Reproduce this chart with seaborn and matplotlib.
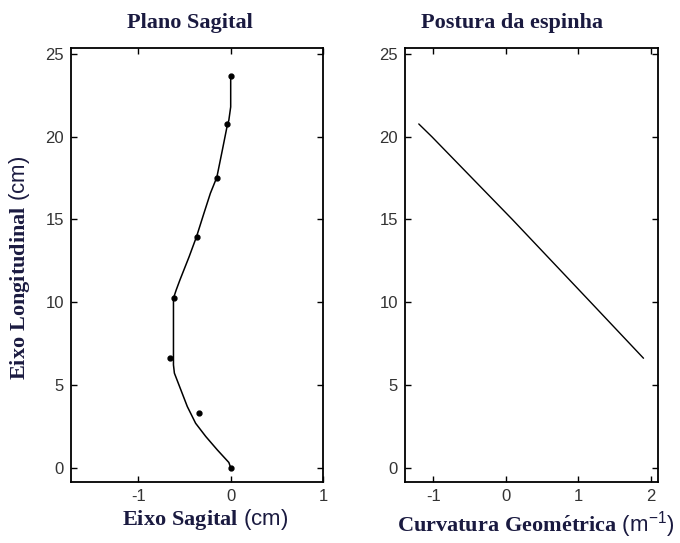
import numpy as np
import matplotlib
matplotlib.use("Agg")
import matplotlib.pyplot as plt
import seaborn as sns

# sagittal plane: fitted spine curve (x, y in cm) and measured markers
curve_x = [0.0, 0.0, -0.02, -0.04, -0.09, -0.15, -0.22, -0.29, -0.37, -0.45,
           -0.55, -0.59, -0.62, -0.62, -0.62, -0.61, -0.54, -0.47, -0.38,
           -0.27, -0.145, -0.02, 0.0]
curve_y = [23.69, 21.8, 21.0, 20.6, 19.2, 17.55, 16.58, 15.37, 13.96, 12.75,
           11.34, 10.74, 10.24, 9.43, 6.21, 5.71, 4.70, 3.69, 2.68,
           1.88, 1.07, 0.31, 0.0]
marker_x = [0.007, -0.036, -0.152, -0.37, -0.616, -0.66, -0.34, 0.0]
marker_y = [23.67, 20.75, 17.49, 13.92, 10.24, 6.61, 3.29, 0.0]

# geometric curvature along the spine (1/m vs cm)
curv_x = [-1.20, -1.02, 0.09, 1.17, 1.90]
curv_y = [20.77, 20.0, 15.0, 10.0, 6.61]

sns.set_style("ticks")
plt.rcParams["font.family"] = ["Liberation Sans", "DejaVu Sans"]
plt.rcParams["axes.unicode_minus"] = False
plt.rcParams["mathtext.fontset"] = "custom"
plt.rcParams["mathtext.bf"] = "Liberation Serif:bold"
plt.rcParams["mathtext.rm"] = "Liberation Sans"
plt.rcParams["mathtext.it"] = "Liberation Sans"

navy = "#1a1a40"
tick_col = "#333333"

fig = plt.figure(figsize=(6.8, 5.43), dpi=100)
ax1 = fig.add_axes([71 / 680, 61 / 543, 252 / 680, 434 / 543])
ax2 = fig.add_axes([405 / 680, 61 / 543, 253 / 680, 434 / 543])

sns.lineplot(x=curve_x, y=curve_y, sort=False, estimator=None, color="black",
             linewidth=1.1, ax=ax1)
ax1.plot(marker_x, marker_y, ".", color="black", markersize=7)
ax1.set_xlim(-1.73, 1.0)
ax1.set_xticks([-1, 0, 1])

sns.lineplot(x=curv_x, y=curv_y, sort=False, estimator=None, color="black",
             linewidth=1.0, ax=ax2)
ax2.set_xlim(-1.39, 2.1)
ax2.set_xticks([-1, 0, 1, 2])

for ax in (ax1, ax2):
    ax.set_ylim(-0.87, 25.36)
    ax.set_yticks([0, 5, 10, 15, 20, 25])
    ax.tick_params(direction="in", length=4, width=1, top=True, right=True,
                   labelsize=12, labelcolor=tick_col, color="black", pad=5)
    for s in ax.spines.values():
        s.set_visible(True)
        s.set_linewidth(1.3)
        s.set_color("black")

fig.text(190 / 680, 1 - 23 / 543, "Plano Sagital", family="Liberation Serif",
         weight="bold", fontsize=16, color=navy, ha="center", va="center")
fig.text(512 / 680, 1 - 23 / 543, "Postura da espinha", family="Liberation Serif",
         weight="bold", fontsize=16, color=navy, ha="center", va="center")

fig.text(205 / 680, 1 - 520 / 543, r"$\mathbf{Eixo\ Sagital}$ (cm)",
         fontsize=16, color=navy, ha="center", va="center")
fig.text(536 / 680, 1 - 525 / 543, r"$\mathbf{Curvatura\ Geom\acute{e}trica}$ (m$^{-1}$)",
         fontsize=16, color=navy, ha="center", va="center")
fig.text(20 / 680, 1 - 268 / 543, r"$\mathbf{Eixo\ Longitudinal}$ (cm)",
         fontsize=16, color=navy, ha="center", va="center", rotation=90)

plt.savefig("out.png", dpi=100)
plt.close(fig)
